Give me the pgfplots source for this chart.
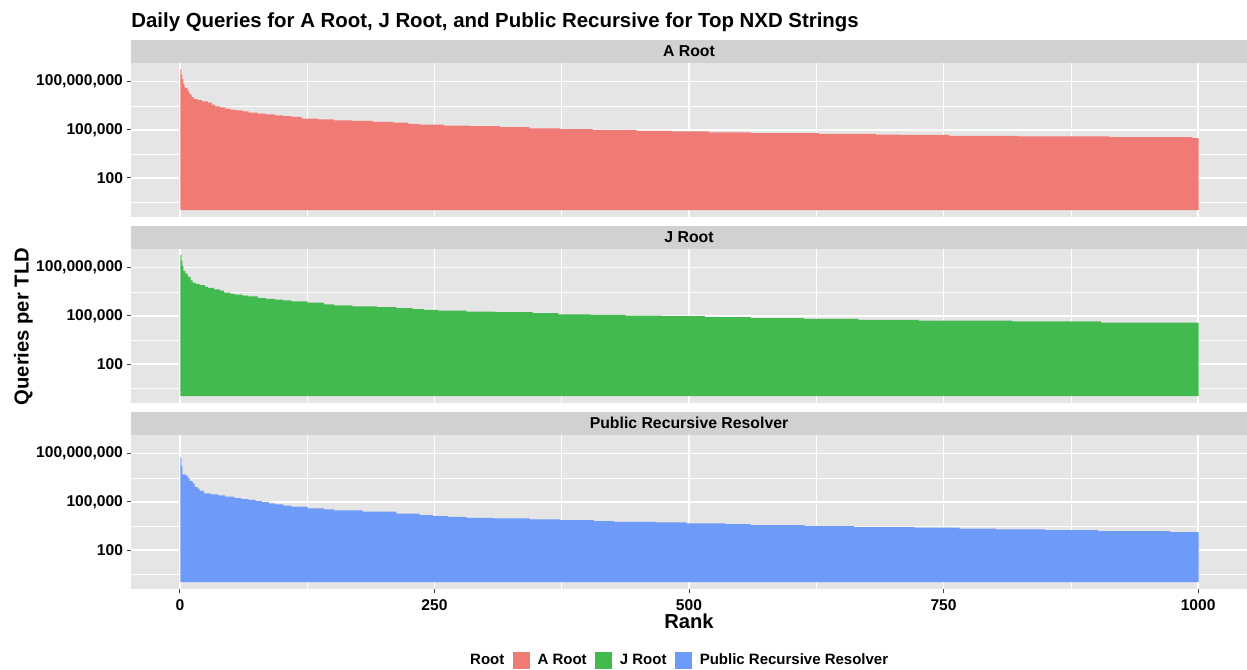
\documentclass[border=0pt]{standalone}
\usepackage{pgfplots}
\pgfplotsset{compat=1.18}
\usepackage{fontspec}
\setmainfont{Liberation Sans}
\definecolor{panelbg}{HTML}{E5E5E5}
\definecolor{stripbg}{HTML}{D1D1D1}
\definecolor{cA}{HTML}{F07B75}
\definecolor{cJ}{HTML}{43BA4F}
\definecolor{cP}{HTML}{6E9AFA}
\pgfplotsset{
  /pgfplots/mypanel/.style={
    width=558pt, height=77pt, scale only axis,
    xmin=-48, xmax=1048, ymin=0.398, ymax=1.585e9,
    axis background/.style={fill=panelbg},
    axis line style={draw=none},
    grid=both,
    major grid style={white, line width=0.65pt},
    minor grid style={white, line width=0.3pt},
    xtick={0,250,500,750,1000}, minor xtick={125,375,625,875},
    ytick={100,1e5,1e8}, minor ytick={3.1623,3162.3,3162278},
    yticklabels={{100},{100,000},{100,000,000}},
    tick align=outside, major tick length=2pt, minor tick length=0pt,
    tick style={color=black!75, line width=0.5pt},
    xtick pos=left, ytick pos=left,
    ticklabel style={font=\bfseries\fontsize{7.8}{9}\selectfont, text=black},
    yticklabel style={xshift=1.5pt},
  },
  /pgfplots/legsq/.style={legend image code/.code={\fill[##1, draw=none] (0pt,-4.25pt) rectangle (8.5pt,4.25pt);}},
}
\begin{document}
\begin{tikzpicture}
\path[use as bounding box] (0,0) rectangle (623.5pt,-334.5pt);
\node[anchor=base west, inner sep=0pt, font=\bfseries\fontsize{10.2}{12}\selectfont] at (65.5pt,-13.5pt) {Daily Queries for A Root, J Root, and Public Recursive for Top NXD Strings};
% strips
\fill[stripbg] (65.5pt,-19.75pt) rectangle (623.5pt,-31.25pt);
\node[font=\bfseries\fontsize{7.9}{9}\selectfont, inner sep=0pt] at (344.5pt,-25.5pt) {A Root};
\fill[stripbg] (65.5pt,-112.75pt) rectangle (623.5pt,-124.25pt);
\node[font=\bfseries\fontsize{7.9}{9}\selectfont, inner sep=0pt] at (344.5pt,-118.5pt) {J Root};
\fill[stripbg] (65.5pt,-205.75pt) rectangle (623.5pt,-217.25pt);
\node[font=\bfseries\fontsize{7.9}{9}\selectfont, inner sep=0pt] at (344.5pt,-211.5pt) {Public Recursive Resolver};
% axis titles
\node[rotate=90, anchor=base, inner sep=0pt, font=\bfseries\fontsize{10.1}{12}\selectfont] at (14.25pt,-163.3pt) {Queries per TLD};
\node[inner sep=0pt, font=\bfseries\fontsize{10.1}{12}\selectfont] at (344.5pt,-310.5pt) {Rank};

\begin{axis}[ymode=log, mypanel, at={(65.5pt,-31.25pt)}, anchor=north west, xticklabels={}, xtick style={draw=none}]
\addplot[const plot, fill=cA, draw=none] table {
x y
0.5 6.03e8
1.5 2.82e8
2.5 1.41e8
3.5 7.08e7
4.5 5.01e7
5.5 4.07e7
7.5 2.95e7
8.5 2.24e7
9.5 1.66e7
11.5 1.12e7
13.5 8.13e6
17.5 7.08e6
21.5 6.03e6
27.5 5.01e6
31.5 3.80e6
34.5 2.95e6
39.5 2.51e6
44.5 2.09e6
49.5 1.86e6
54.5 1.66e6
61.5 1.41e6
67.5 1.20e6
76.5 1.02e6
84.5 9.12e5
93.5 8.13e5
101.5 7.24e5
109.5 6.46e5
119.5 5.01e5
135.5 4.57e5
151.5 3.98e5
169.5 3.63e5
189.5 3.16e5
209.5 2.82e5
224.5 2.40e5
235.5 2.14e5
259.5 1.86e5
284.5 1.70e5
314.5 1.48e5
343.5 1.26e5
373.5 1.10e5
405.5 1.00e5
448.5 8.71e4
483.5 7.94e4
519.5 6.92e4
560.5 6.17e4
627.5 5.62e4
683.5 5.13e4
706.5 4.90e4
755.5 4.27e4
823.5 3.89e4
912.5 3.55e4
993.5 3.02e4
1000.5 3.02e4
} \closedcycle;
\end{axis}

\begin{axis}[ymode=log, mypanel, at={(65.5pt,-124.25pt)}, anchor=north west, xticklabels={}, xtick style={draw=none}]
\addplot[const plot, fill=cJ, draw=none] table {
x y
0.5 6.46e8
1.5 2.82e8
2.5 1.26e8
3.5 6.31e7
5.5 4.27e7
7.5 3.02e7
8.5 2.63e7
10.5 1.62e7
12.5 1.17e7
15.5 1.00e7
19.5 8.32e6
24.5 6.61e6
27.5 5.62e6
33.5 4.47e6
39.5 3.72e6
43.5 2.82e6
49.5 2.34e6
54.5 2.09e6
61.5 1.86e6
67.5 1.66e6
76.5 1.29e6
84.5 1.15e6
93.5 1.02e6
101.5 9.12e5
109.5 8.13e5
125.5 6.61e5
141.5 5.25e5
151.5 4.57e5
169.5 3.98e5
193.5 3.47e5
212.5 3.02e5
228.5 2.63e5
239.5 2.34e5
253.5 2.14e5
281.5 1.86e5
309.5 1.70e5
346.5 1.48e5
371.5 1.26e5
403.5 1.15e5
437.5 1.05e5
473.5 9.55e4
515.5 8.32e4
560.5 7.24e4
612.5 6.46e4
666.5 5.62e4
725.5 5.13e4
817.5 4.47e4
904.5 3.80e4
1000.5 3.80e4
} \closedcycle;
\end{axis}

\begin{axis}[ymode=log, mypanel, at={(65.5pt,-217.25pt)}, anchor=north west, xticklabels={0,250,500,750,1000},
  legend style={at={(0.4878,-0.4675)}, anchor=center, draw=none, fill=none,
    legend columns=-1, font=\bfseries\fontsize{7.5}{9}\selectfont,
    nodes={inner sep=0pt},
    /tikz/every odd column/.append style={column sep=3.8pt},
    /tikz/every even column/.append style={column sep=4.3pt}}]
\addplot[const plot, fill=cP, draw=none, forget plot] table {
x y
0.5 5.62e7
1.5 1.70e7
2.5 5.13e6
5.5 4.47e6
7.5 3.16e6
9.5 2.00e6
12.5 1.41e6
14.5 8.71e5
17.5 6.61e5
19.5 4.79e5
23.5 3.39e5
30.5 2.95e5
37.5 2.51e5
44.5 2.09e5
53.5 1.74e5
60.5 1.51e5
67.5 1.32e5
74.5 1.12e5
80.5 9.77e4
87.5 8.13e4
93.5 6.92e4
101.5 5.89e4
109.5 5.01e4
125.5 3.89e4
141.5 3.39e4
151.5 2.95e4
179.5 2.51e4
212.5 1.86e4
235.5 1.48e4
248.5 1.29e4
263.5 1.17e4
281.5 1.02e4
307.5 9.33e3
343.5 8.13e3
373.5 7.24e3
406.5 6.31e3
426.5 5.75e3
467.5 5.25e3
497.5 4.57e3
535.5 4.07e3
560.5 3.55e3
613.5 3.09e3
662.5 2.69e3
721.5 2.45e3
765.5 2.14e3
801.5 1.95e3
849.5 1.74e3
901.5 1.51e3
972.5 1.32e3
1000.5 1.32e3
} \closedcycle;
\addlegendimage{empty legend}\addlegendentry{Root}
\addlegendimage{legsq, fill=cA}\addlegendentry{A Root}
\addlegendimage{legsq, fill=cJ}\addlegendentry{J Root}
\addlegendimage{legsq, fill=cP}\addlegendentry{Public Recursive Resolver}
\end{axis}
\end{tikzpicture}
\end{document}
